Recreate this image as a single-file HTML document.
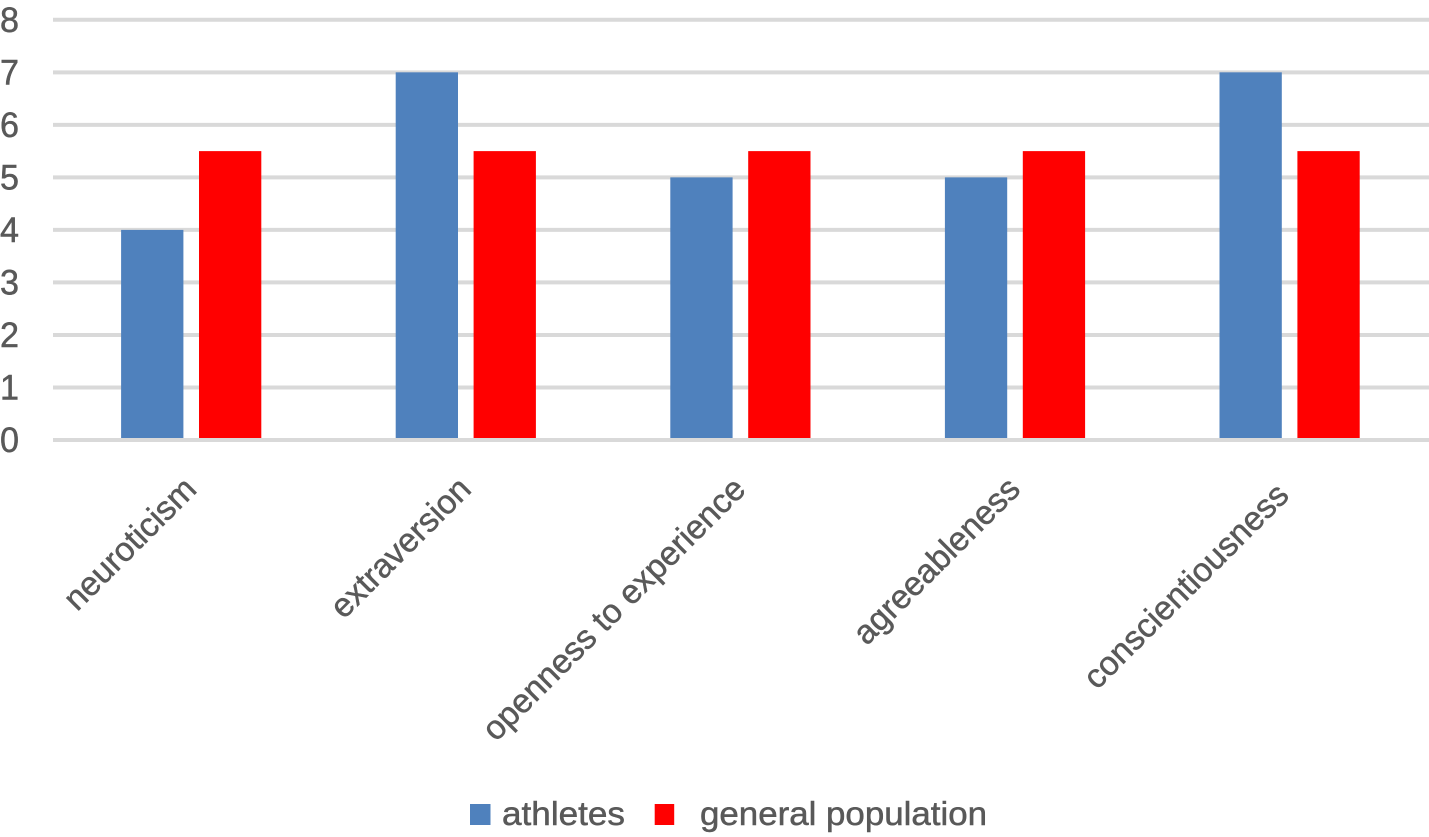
<!DOCTYPE html>
<html lang="en">
<head>
<meta charset="utf-8">
<title>Personality traits chart</title>
<style>
html,body{margin:0;padding:0;background:#fff;width:1429px;height:837px;overflow:hidden}
svg{display:block}
text{font-family:"Liberation Sans",sans-serif;fill:#595959;stroke:#595959;stroke-width:0.5px}
</style>
</head>
<body>
<svg id="chart" xmlns="http://www.w3.org/2000/svg" width="1429" height="837" viewBox="0 0 1429 837"></svg>
<script>
const categories = ["neuroticism", "extraversion", "openness to experience", "agreeableness", "conscientiousness"];
const athletes = [4, 7, 5, 5, 7];
const generalPopulation = [5.5, 5.5, 5.5, 5.5, 5.5];
const yTicks = [0, 1, 2, 3, 4, 5, 6, 7, 8];
const seriesNames = ["athletes", "general population"];

const NS = "http://www.w3.org/2000/svg";
const svg = document.getElementById("chart");
const plotLeft = 53, plotRight = 1429, y0 = 440, y8 = 19.8;
const firstCenter = 191.2, catW = 274.6;
const barW = 62.3, gap = 15.6;
const yScale = v => y0 + (y8 - y0) * v / 8;
const xCenter = i => firstCenter + catW * i;

function mk(tag, attrs, text) {
  const el = document.createElementNS(NS, tag);
  for (const k in attrs) el.setAttribute(k, attrs[k]);
  if (text !== undefined) el.textContent = text;
  svg.appendChild(el);
  return el;
}

yTicks.forEach(t => {
  const line = mk("line", {x1: plotLeft, x2: plotRight, y1: yScale(t), y2: yScale(t), stroke: "#d9d9d9", "stroke-width": 4});
  
  
  const lab = mk("text", {x: 0, y: yScale(t) + 12, "font-size": 35, textLength: 19, lengthAdjust: "spacingAndGlyphs"}, t);
  
  
});

const barBottom = y0 - 2;
categories.forEach((c, i) => {
  const cx = xCenter(i);
  const a = mk("rect", {x: cx - gap / 2 - barW, y: yScale(athletes[i]), width: barW, height: barBottom - yScale(athletes[i]), fill: "#4f81bd"});
  
  
  const g = mk("rect", {x: cx + gap / 2, y: yScale(generalPopulation[i]), width: barW, height: barBottom - yScale(generalPopulation[i]), fill: "#ff0000"});
  
  
  const nudge = i === categories.length - 1 ? 6 : 0;
  const ex = cx + 7 - nudge, ey = 491 + nudge;
  const lab = mk("text", {x: ex, y: ey, "font-size": 33.5, "text-anchor": "end", transform: `rotate(-45 ${ex} ${ey})`}, c);
  
  
});

const s1 = mk("rect", {x: 470, y: 804, width: 20.5, height: 21, fill: "#4f81bd"});


const l1 = mk("text", {x: 502, y: 825, "font-size": 33, textLength: 123, lengthAdjust: "spacingAndGlyphs"}, seriesNames[0]);


const s2 = mk("rect", {x: 654.7, y: 804, width: 19.5, height: 21, fill: "#ff0000"});


const l2 = mk("text", {x: 700, y: 825, "font-size": 33, textLength: 287, lengthAdjust: "spacingAndGlyphs"}, seriesNames[1]);


</script>
</body>
</html>
